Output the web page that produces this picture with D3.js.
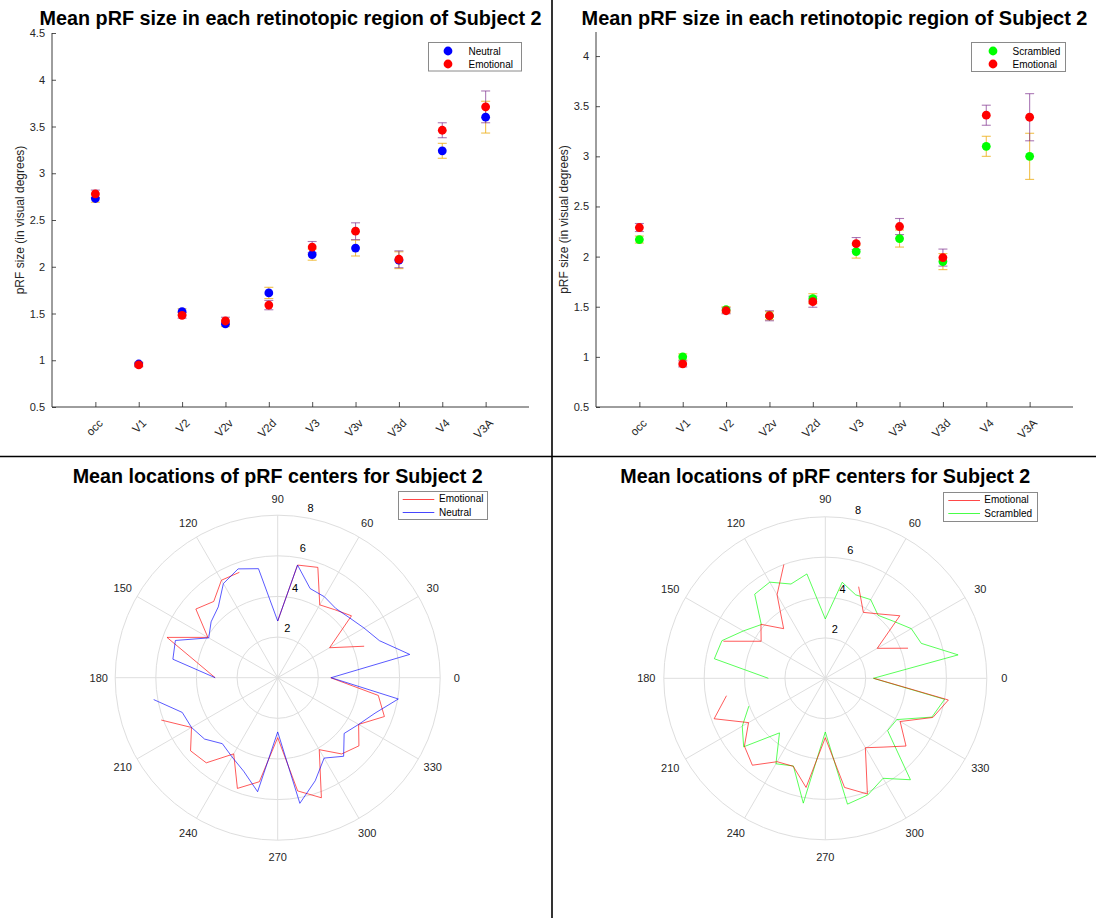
<!DOCTYPE html>
<html><head><meta charset="utf-8">
<script src="https://cdn.jsdelivr.net/npm/d3@7"></script>
<style>
body{margin:0;background:#fff;}
svg{display:block;font-family:"Liberation Sans",Arial,Helvetica,sans-serif;}
</style>
</head><body>
<svg id="c" width="1096" height="918"></svg>
<script>
// ---------- DATA ----------
const regions = ["occ","V1","V2","V2v","V2d","V3","V3v","V3d","V4","V3A"];
// top-left: Neutral vs Emotional
const neutralSize   = [2.73, 0.96, 1.52, 1.39, 1.72, 2.13, 2.20, 2.07, 3.24, 3.60];
const neutralErr    = [0.04, 0.02, 0.03, 0.03, 0.06, 0.06, 0.085, 0.09, 0.08, 0.17];
const emotionalSizeA= [2.78, 0.95, 1.48, 1.42, 1.59, 2.21, 2.38, 2.08, 3.46, 3.71];
const emotionalErrA = [0.04, 0.02, 0.03, 0.04, 0.05, 0.06, 0.09, 0.09, 0.08, 0.17];
// top-right: Scrambled vs Emotional
const scrambledSize = [2.17, 1.00, 1.47, 1.41, 1.58, 2.05, 2.18, 1.95, 3.10, 3.00];
const scrambledErr  = [0.035,0.03, 0.03, 0.04, 0.05, 0.065,0.085,0.08, 0.10, 0.23];
const emotionalSizeB= [2.29, 0.93, 1.46, 1.41, 1.55, 2.13, 2.30, 1.99, 3.41, 3.39];
const emotionalErrB = [0.04, 0.03, 0.03, 0.05, 0.055,0.06, 0.08, 0.085,0.10, 0.235];
const yTicksA = [0.5,1,1.5,2,2.5,3,3.5,4,4.5];
const yTicksB = [0.5,1,1.5,2,2.5,3,3.5,4];

// polar: angle order as plotted (degrees)
const polarTheta = [190,200,210,220,230,240,250,260,270,280,290,300,310,320,330,340,350,0,
                    10,20,30,40,50,60,70,80,90,100,110,120,130,140,150,160,170,180];
const polarEmotionalA = [null,6.1,4.9,5.6,5.47,4.33,5.8,5.2,2.95,5.66,6.29,4.09,4.9,5.22,4.6,5.59,5.03,2.6,
                         null,4.53,2.95,4.74,4.37,4.14,5.78,5.63,2.79,null,5.52,5.54,4.9,5.26,3.97,5.8,3.96,3.08];
const polarNeutral    = [6.2,5.0,4.9,4.7,4.24,4.5,4.9,5.7,2.67,6.28,5.4,4.57,5.05,4.27,4.6,5.1,6.03,2.63,
                         6.6,5.33,4.9,4.6,4.45,4.6,4.67,5.63,2.79,5.45,5.7,5.35,4.55,4.28,3.92,5.36,5.24,3.08];
const polarEmotionalB = [4.97,5.86,4.39,5.23,5.62,4.77,4.64,5.49,2.94,5.49,6.1,3.97,4.45,5.22,4.28,5.67,6.19,2.4,
                         null,4.36,2.97,4.82,4.16,3.77,4.83,null,null,null,6.0,4.78,3.21,4.16,3.67,5.37,null,null];
const polarScrambled  = [null,4.03,4.75,5.28,3.53,4.89,4.62,6.28,2.66,6.33,6.15,5.72,6.56,4.03,4.09,5.62,6.0,2.38,
                         6.68,5.06,4.92,4.4,4.07,4.5,4.4,4.83,2.94,5.25,4.97,5.5,5.44,4.14,4.69,5.45,5.58,2.82];
const thetaTicks = [0,30,60,90,120,150,180,210,240,270,300,330];
const rTicks = [2,4,6,8];

// ---------- STYLE ----------
const C = {blue:"#0000ff", red:"#ff0000", green:"#00ff00", orange:"#EDB120", purple:"#7E2F8E",
           axis:"#262626", grid:"#dedede"};
const svg = d3.select("#c");

function fitText(sel, w){
  const n = sel.node(); const fs = parseFloat(sel.attr("font-size"));
  const L = n.getComputedTextLength(); sel.attr("font-size", (fs*w/L).toFixed(2));
}

// dividers
svg.append("line").attr("x1",552).attr("x2",552).attr("y1",0).attr("y2",918).attr("stroke","#000").attr("stroke-width",1.6);
svg.append("line").attr("x1",0).attr("x2",1096).attr("y1",456.5).attr("y2",456.5).attr("stroke","#000").attr("stroke-width",1.4);

// ---------- scatter panels ----------
function scatterPanel(o){
  const g = svg.append("g");
  const x = d3.scaleLinear().domain([0,11]).range([o.x0,o.x1]);
  const y = d3.scaleLinear().domain(o.yDomain).range([o.yb,o.yt]);
  const ya = g.append("g").attr("transform",`translate(${o.x0},0)`)
    .call(d3.axisLeft(y).tickValues(o.yTicks).tickSize(-4).tickPadding(7).tickFormat(d=>String(d)));
  const xa = g.append("g").attr("transform",`translate(0,${o.yb})`)
    .call(d3.axisBottom(x).tickValues(d3.range(1,11)).tickSize(-5).tickFormat((d)=>regions[d-1]));
  [ya,xa].forEach(a=>{
    a.select(".domain").attr("stroke",C.axis).attr("stroke-width",0.9);
    a.selectAll(".tick line").attr("stroke",C.axis).attr("stroke-width",0.8);
    a.selectAll("text").attr("fill",C.axis).attr("font-size",11).attr("font-family",'"Liberation Sans",Arial,sans-serif');
  });
  ya.select(".domain").attr("d",`M0,${o.yb}V${o.yt}`);
  xa.select(".domain").attr("d",`M${o.x0},0H${o.x1}`);
  xa.selectAll(".tick text").attr("text-anchor","end").attr("dy",null).attr("y",null)
    .attr("dominant-baseline","central").attr("font-size",11.5)
    .attr("transform","translate(5,14) rotate(-45)");
  g.append("text").attr("transform",`translate(${o.ylx},${(o.yt+o.yb)/2}) rotate(-90)`)
    .attr("text-anchor","middle").attr("font-size",12).attr("fill",C.axis).text("pRF size (in visual degrees)");
  const t = g.append("text").attr("x",(o.x0+o.x1)/2).attr("y",25).attr("text-anchor","middle")
    .attr("font-weight","bold").attr("font-size",20).attr("fill","#000")
    .text("Mean pRF size in each retinotopic region of Subject 2");
  fitText(t, o.titleW);
  function bars(vals, errs, col, op){
    const gg = g.append("g").attr("stroke",col).attr("stroke-opacity",op).attr("stroke-width",1.1);
    vals.forEach((v,i)=>{
      const cx = x(i+1);
      gg.append("line").attr("x1",cx).attr("x2",cx).attr("y1",y(v-errs[i])).attr("y2",y(v+errs[i]));
      gg.append("line").attr("x1",cx-4.5).attr("x2",cx+4.5).attr("y1",y(v-errs[i])).attr("y2",y(v-errs[i]));
      gg.append("line").attr("x1",cx-4.5).attr("x2",cx+4.5).attr("y1",y(v+errs[i])).attr("y2",y(v+errs[i]));
    });
  }
  bars(o.s1, o.e1, C.orange, 0.8);
  bars(o.s2, o.e2, C.purple, 0.65);
  function dots(vals,col){
    g.append("g").selectAll("circle").data(vals).join("circle")
      .attr("cx",(d,i)=>x(i+1)).attr("cy",d=>y(d)).attr("r",4.4).attr("fill",col);
  }
  dots(o.s1, o.c1);
  dots(o.s2, C.red);
  const L = o.leg;
  const lg = g.append("g");
  lg.append("rect").attr("x",L.x).attr("y",L.y).attr("width",L.w).attr("height",L.h)
    .attr("fill","#fff").attr("stroke","#8a8a8a").attr("stroke-width",1);
  [[o.n1,o.c1],["Emotional",C.red]].forEach((e,i)=>{
    const yy = L.y + 8.5 + i*13;
    lg.append("circle").attr("cx",L.mx).attr("cy",yy).attr("r",4.4).attr("fill",e[1]);
    lg.append("text").attr("x",L.tx).attr("y",yy).attr("dominant-baseline","central")
      .attr("font-size",10).attr("fill","#000").text(e[0]);
  });
}

scatterPanel({x0:52,x1:529,yt:33,yb:407,yDomain:[0.5,4.5],yTicks:yTicksA,ylx:24,titleW:502,
  s1:neutralSize,e1:neutralErr,s2:emotionalSizeA,e2:emotionalErrA,c1:C.blue,n1:"Neutral",
  leg:{x:428.5,y:42.5,w:93,h:28.5,mx:448,tx:468.5}});
scatterPanel({x0:596,x1:1073,yt:32,yb:407,yDomain:[0.5,4.24],yTicks:yTicksB,ylx:568,titleW:506,
  s1:scrambledSize,e1:scrambledErr,s2:emotionalSizeB,e2:emotionalErrB,c1:C.green,n1:"Scrambled",
  leg:{x:971.5,y:42.5,w:94,h:29,mx:993,tx:1012.5}});

// ---------- polar panels ----------
function polarPanel(o){
  const g = svg.append("g").attr("transform",`translate(${o.cx},${o.cy})`);
  const r = d3.scaleLinear().domain([0,8]).range([0,o.R]);
  const grid = g.append("g").attr("stroke",C.grid).attr("fill","none").attr("stroke-width",1);
  rTicks.forEach(t=>grid.append("circle").attr("r",r(t)));
  thetaTicks.forEach(a=>{
    const rad = a*Math.PI/180;
    grid.append("line").attr("x1",0).attr("y1",0).attr("x2",o.R*Math.cos(rad)).attr("y2",-o.R*Math.sin(rad));
  });
  thetaTicks.forEach(a=>{
    const rad = a*Math.PI/180;
    g.append("text").attr("x",179*Math.cos(rad)).attr("y",-179*Math.sin(rad))
      .attr("text-anchor","middle").attr("dominant-baseline","central").attr("font-size",11).attr("fill",C.axis).text(a);
  });
  rTicks.forEach(t=>{
    const rad = 79*Math.PI/180, rr = r(t)+10;
    g.append("text").attr("x",rr*Math.cos(rad)).attr("y",-rr*Math.sin(rad))
      .attr("text-anchor","middle").attr("dominant-baseline","central").attr("font-size",11).attr("fill","#000").text(t);
  });
  const line = d3.lineRadial().defined(d=>d.r!==null)
    .angle(d=>(90-d.t)*Math.PI/180).radius(d=>r(d.r));
  o.drawOrder.forEach(k=>{
    const s = o.series[k];
    const data = polarTheta.map((t,i)=>({t:t, r:s.vals[i]}));
    g.append("path").attr("d",line(data)).attr("fill","none").attr("stroke",s.col)
      .attr("stroke-width",0.9).attr("stroke-opacity",0.72);
  });
  const t = svg.append("text").attr("x",o.cx).attr("y",483).attr("text-anchor","middle")
    .attr("font-weight","bold").attr("font-size",18).attr("fill","#000")
    .text("Mean locations of pRF centers for Subject 2");
  fitText(t, 410);
  const L = o.leg;
  const lg = svg.append("g");
  lg.append("rect").attr("x",L.x).attr("y",L.y).attr("width",L.w).attr("height",L.h)
    .attr("fill","#fff").attr("stroke","#8a8a8a").attr("stroke-width",1);
  o.series.forEach((s,i)=>{
    const yy = L.y + 7 + i*13.5;
    lg.append("line").attr("x1",L.lx0).attr("x2",L.lx1).attr("y1",Math.round(yy)+0.5).attr("y2",Math.round(yy)+0.5)
      .attr("stroke",s.col).attr("stroke-opacity",0.72).attr("stroke-width",1);
    lg.append("text").attr("x",L.tx).attr("y",yy).attr("dominant-baseline","central")
      .attr("font-size",10).attr("fill","#000").text(s.name);
  });
}

polarPanel({cx:277.7,cy:677.7,R:162.5,drawOrder:[0,1],
  series:[{name:"Emotional",vals:polarEmotionalA,col:C.red},{name:"Neutral",vals:polarNeutral,col:C.blue}],
  leg:{x:398.5,y:491.5,w:89,h:28,lx0:402.7,lx1:434.3,tx:439}});
polarPanel({cx:825.3,cy:678.3,R:161.5,drawOrder:[1,0],
  series:[{name:"Emotional",vals:polarEmotionalB,col:C.red},{name:"Scrambled",vals:polarScrambled,col:C.green}],
  leg:{x:943.5,y:492.5,w:94,h:29,lx0:948.3,lx1:980,tx:984.3}});
</script>
</body></html>
